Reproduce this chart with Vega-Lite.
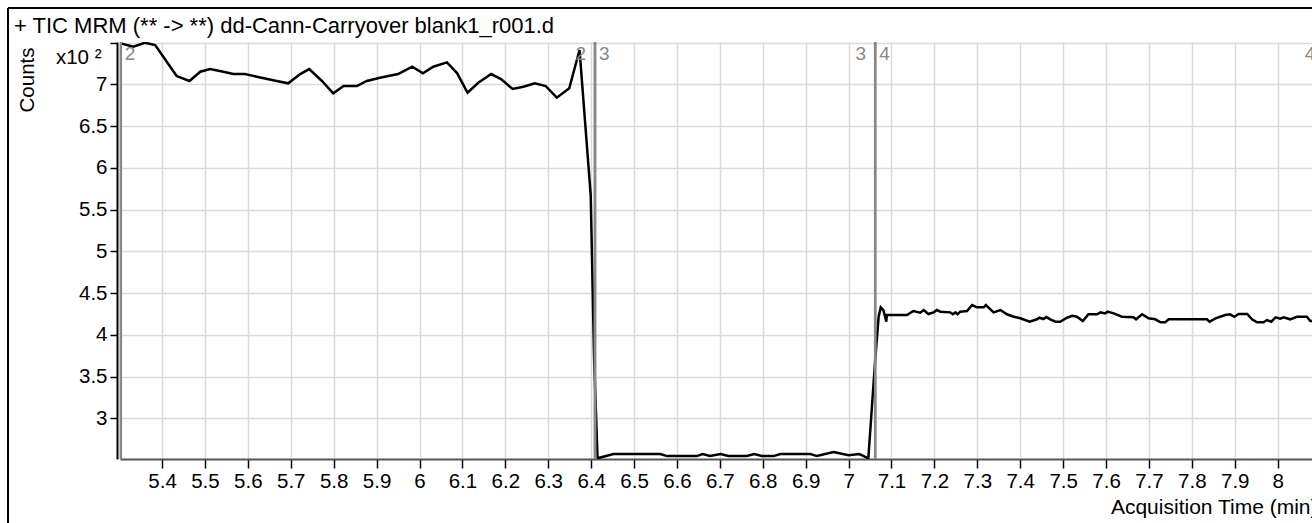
{
  "$schema": "https://vega.github.io/schema/vega-lite/v6.json",
  "width": 1192,
  "height": 417,
  "autosize": {"type": "none"},
  "padding": {"left": 120, "top": 42, "right": 0, "bottom": 64},
  "background": "white",
  "config": {
    "view": {"stroke": null},
    "font": "Liberation Sans",
    "axis": {
      "labelFont": "Liberation Sans",
      "titleFont": "Liberation Sans",
      "labelColor": "#000000",
      "titleColor": "#000000",
      "titleFontWeight": "normal"
    }
  },
  "title": {
    "text": "+ TIC MRM (** -> **) dd-Cann-Carryover blank1_r001.d",
    "anchor": "start",
    "frame": "group",
    "orient": "top",
    "baseline": "alphabetic",
    "dx": -106,
    "offset": -48,
    "font": "Liberation Sans",
    "fontSize": 22,
    "fontWeight": "normal",
    "color": "#000000"
  },
  "datasets": {
    "tic": [
      {"time_min": 5.304, "counts_x100": 7.491},
      {"time_min": 5.333, "counts_x100": 7.450},
      {"time_min": 5.360, "counts_x100": 7.498},
      {"time_min": 5.384, "counts_x100": 7.471},
      {"time_min": 5.411, "counts_x100": 7.271},
      {"time_min": 5.434, "counts_x100": 7.099},
      {"time_min": 5.464, "counts_x100": 7.040},
      {"time_min": 5.489, "counts_x100": 7.151},
      {"time_min": 5.512, "counts_x100": 7.183},
      {"time_min": 5.543, "counts_x100": 7.151},
      {"time_min": 5.566, "counts_x100": 7.123},
      {"time_min": 5.593, "counts_x100": 7.123},
      {"time_min": 5.621, "counts_x100": 7.091},
      {"time_min": 5.667, "counts_x100": 7.040},
      {"time_min": 5.694, "counts_x100": 7.012},
      {"time_min": 5.722, "counts_x100": 7.123},
      {"time_min": 5.743, "counts_x100": 7.183},
      {"time_min": 5.772, "counts_x100": 7.043},
      {"time_min": 5.799, "counts_x100": 6.892},
      {"time_min": 5.823, "counts_x100": 6.980},
      {"time_min": 5.854, "counts_x100": 6.980},
      {"time_min": 5.877, "counts_x100": 7.040},
      {"time_min": 5.908, "counts_x100": 7.079},
      {"time_min": 5.950, "counts_x100": 7.123},
      {"time_min": 5.983, "counts_x100": 7.211},
      {"time_min": 6.008, "counts_x100": 7.132},
      {"time_min": 6.032, "counts_x100": 7.211},
      {"time_min": 6.064, "counts_x100": 7.263},
      {"time_min": 6.088, "counts_x100": 7.132},
      {"time_min": 6.112, "counts_x100": 6.899},
      {"time_min": 6.137, "counts_x100": 7.019},
      {"time_min": 6.167, "counts_x100": 7.123},
      {"time_min": 6.190, "counts_x100": 7.063},
      {"time_min": 6.217, "counts_x100": 6.944},
      {"time_min": 6.242, "counts_x100": 6.971},
      {"time_min": 6.269, "counts_x100": 7.012},
      {"time_min": 6.294, "counts_x100": 6.980},
      {"time_min": 6.320, "counts_x100": 6.840},
      {"time_min": 6.349, "counts_x100": 6.952},
      {"time_min": 6.373, "counts_x100": 7.411},
      {"time_min": 6.399, "counts_x100": 5.674},
      {"time_min": 6.407, "counts_x100": 3.698},
      {"time_min": 6.415, "counts_x100": 2.521},
      {"time_min": 6.452, "counts_x100": 2.572},
      {"time_min": 6.561, "counts_x100": 2.572},
      {"time_min": 6.577, "counts_x100": 2.548},
      {"time_min": 6.646, "counts_x100": 2.548},
      {"time_min": 6.660, "counts_x100": 2.572},
      {"time_min": 6.677, "counts_x100": 2.548},
      {"time_min": 6.702, "counts_x100": 2.572},
      {"time_min": 6.720, "counts_x100": 2.548},
      {"time_min": 6.763, "counts_x100": 2.548},
      {"time_min": 6.780, "counts_x100": 2.572},
      {"time_min": 6.798, "counts_x100": 2.548},
      {"time_min": 6.825, "counts_x100": 2.548},
      {"time_min": 6.841, "counts_x100": 2.572},
      {"time_min": 6.911, "counts_x100": 2.572},
      {"time_min": 6.926, "counts_x100": 2.548},
      {"time_min": 6.965, "counts_x100": 2.596},
      {"time_min": 7.000, "counts_x100": 2.557},
      {"time_min": 7.025, "counts_x100": 2.572},
      {"time_min": 7.046, "counts_x100": 2.521},
      {"time_min": 7.062, "counts_x100": 3.698},
      {"time_min": 7.070, "counts_x100": 4.217},
      {"time_min": 7.075, "counts_x100": 4.329},
      {"time_min": 7.081, "counts_x100": 4.297},
      {"time_min": 7.088, "counts_x100": 4.157},
      {"time_min": 7.089, "counts_x100": 4.237},
      {"time_min": 7.136, "counts_x100": 4.237},
      {"time_min": 7.151, "counts_x100": 4.285},
      {"time_min": 7.167, "counts_x100": 4.265},
      {"time_min": 7.175, "counts_x100": 4.297},
      {"time_min": 7.186, "counts_x100": 4.249},
      {"time_min": 7.198, "counts_x100": 4.269},
      {"time_min": 7.206, "counts_x100": 4.297},
      {"time_min": 7.214, "counts_x100": 4.277},
      {"time_min": 7.237, "counts_x100": 4.269},
      {"time_min": 7.243, "counts_x100": 4.246},
      {"time_min": 7.249, "counts_x100": 4.269},
      {"time_min": 7.254, "counts_x100": 4.246},
      {"time_min": 7.260, "counts_x100": 4.277},
      {"time_min": 7.276, "counts_x100": 4.285},
      {"time_min": 7.288, "counts_x100": 4.357},
      {"time_min": 7.299, "counts_x100": 4.329},
      {"time_min": 7.315, "counts_x100": 4.329},
      {"time_min": 7.320, "counts_x100": 4.357},
      {"time_min": 7.338, "counts_x100": 4.269},
      {"time_min": 7.354, "counts_x100": 4.297},
      {"time_min": 7.369, "counts_x100": 4.246},
      {"time_min": 7.385, "counts_x100": 4.217},
      {"time_min": 7.400, "counts_x100": 4.198},
      {"time_min": 7.422, "counts_x100": 4.157},
      {"time_min": 7.439, "counts_x100": 4.186},
      {"time_min": 7.445, "counts_x100": 4.205},
      {"time_min": 7.454, "counts_x100": 4.189},
      {"time_min": 7.461, "counts_x100": 4.213},
      {"time_min": 7.470, "counts_x100": 4.186},
      {"time_min": 7.482, "counts_x100": 4.157},
      {"time_min": 7.493, "counts_x100": 4.157},
      {"time_min": 7.509, "counts_x100": 4.205},
      {"time_min": 7.521, "counts_x100": 4.229},
      {"time_min": 7.532, "counts_x100": 4.217},
      {"time_min": 7.546, "counts_x100": 4.165},
      {"time_min": 7.559, "counts_x100": 4.246},
      {"time_min": 7.579, "counts_x100": 4.246},
      {"time_min": 7.587, "counts_x100": 4.269},
      {"time_min": 7.598, "counts_x100": 4.257},
      {"time_min": 7.604, "counts_x100": 4.277},
      {"time_min": 7.610, "counts_x100": 4.269},
      {"time_min": 7.618, "counts_x100": 4.257},
      {"time_min": 7.637, "counts_x100": 4.217},
      {"time_min": 7.664, "counts_x100": 4.210},
      {"time_min": 7.670, "counts_x100": 4.186},
      {"time_min": 7.684, "counts_x100": 4.246},
      {"time_min": 7.699, "counts_x100": 4.198},
      {"time_min": 7.715, "counts_x100": 4.186},
      {"time_min": 7.727, "counts_x100": 4.150},
      {"time_min": 7.738, "counts_x100": 4.150},
      {"time_min": 7.746, "counts_x100": 4.186},
      {"time_min": 7.835, "counts_x100": 4.186},
      {"time_min": 7.841, "counts_x100": 4.157},
      {"time_min": 7.855, "counts_x100": 4.198},
      {"time_min": 7.878, "counts_x100": 4.237},
      {"time_min": 7.889, "counts_x100": 4.246},
      {"time_min": 7.899, "counts_x100": 4.217},
      {"time_min": 7.909, "counts_x100": 4.250},
      {"time_min": 7.929, "counts_x100": 4.250},
      {"time_min": 7.940, "counts_x100": 4.186},
      {"time_min": 7.952, "counts_x100": 4.150},
      {"time_min": 7.967, "counts_x100": 4.150},
      {"time_min": 7.975, "counts_x100": 4.177},
      {"time_min": 7.985, "counts_x100": 4.157},
      {"time_min": 7.995, "counts_x100": 4.210},
      {"time_min": 8.006, "counts_x100": 4.193},
      {"time_min": 8.014, "counts_x100": 4.210},
      {"time_min": 8.029, "counts_x100": 4.186},
      {"time_min": 8.045, "counts_x100": 4.217},
      {"time_min": 8.068, "counts_x100": 4.217},
      {"time_min": 8.076, "counts_x100": 4.165},
      {"time_min": 8.085, "counts_x100": 4.165}
    ],
    "segments": [
      {"segment": "2", "start": 5.304, "end": 6.409},
      {"segment": "3", "start": 6.409, "end": 7.062},
      {"segment": "4", "start": 7.062, "end": 8.109}
    ],
    "one": [{}]
  },
  "layer": [
    {
      "data": {"name": "tic"},
      "mark": {"type": "line", "color": "#000000", "strokeWidth": 2.5, "clip": true},
      "encoding": {
        "x": {
          "field": "time_min",
          "type": "quantitative",
          "scale": {"domain": [5.302, 8.08], "nice": false, "zero": false},
          "axis": {
            "title": "Acquisition Time (min)",
            "values": [5.4, 5.5, 5.6, 5.7, 5.8, 5.9, 6, 6.1, 6.2, 6.3, 6.4, 6.5, 6.6, 6.7, 6.8, 6.9, 7, 7.1, 7.2, 7.3, 7.4, 7.5, 7.6, 7.7, 7.8, 7.9, 8],
            "format": "~g",
            "labelFontSize": 20.5,
            "labelPadding": 3,
            "labelFlush": false,
            "labelOverlap": false,
            "tickSize": 9,
            "tickColor": "#000000",
            "tickWidth": 1.5,
            "domainColor": "#555555",
            "domainWidth": 2,
            "grid": true,
            "gridColor": "#dadada",
            "gridWidth": 1.5,
            "titleFontSize": 21,
            "titleAnchor": "end",
            "titleAlign": "right",
            "titleBaseline": "alphabetic",
            "titleX": 1197,
            "titleY": 54
          }
        },
        "y": {
          "field": "counts_x100",
          "type": "quantitative",
          "scale": {"domain": [2.513, 7.507], "nice": false, "zero": false},
          "axis": {
            "title": "Counts",
            "values": [3, 3.5, 4, 4.5, 5, 5.5, 6, 6.5, 7, 7.5],
            "format": "~g",
            "labelExpr": "datum.value == 7.5 ? 'x10 ²' : datum.label",
            "labelFontSize": 20.5,
            "labelPadding": {"condition": {"test": "datum.value == 7.5", "value": 9}, "value": 3},
            "labelOffset": {"condition": {"test": "datum.value == 7.5", "value": 15}, "value": 0},
            "labelOverlap": false,
            "labelFlush": false,
            "offset": 3,
            "tickSize": 7,
            "tickColor": "#000000",
            "tickWidth": 1.5,
            "domainColor": "#000000",
            "domainWidth": 2,
            "grid": true,
            "gridColor": "#dadada",
            "gridWidth": 1.5,
            "titleFontSize": 20.5,
            "titleAngle": 270,
            "titleAlign": "right",
            "titleBaseline": "alphabetic",
            "titleX": -84,
            "titleY": 5
          }
        }
      }
    },
    {
      "data": {"name": "segments"},
      "mark": {"type": "rule", "color": "#888888", "strokeWidth": 2.5},
      "encoding": {"x": {"field": "start", "type": "quantitative"}}
    },
    {
      "data": {"name": "segments"},
      "mark": {"type": "rule", "color": "#888888", "strokeWidth": 2.5},
      "encoding": {"x": {"field": "end", "type": "quantitative"}}
    },
    {
      "data": {"name": "segments"},
      "mark": {"type": "text", "align": "left", "baseline": "middle", "dx": 4, "fontSize": 19, "color": "#888888", "font": "Liberation Sans"},
      "encoding": {
        "x": {"field": "start", "type": "quantitative"},
        "y": {"datum": 7.36, "type": "quantitative"},
        "text": {"field": "segment"}
      }
    },
    {
      "data": {"name": "segments"},
      "mark": {"type": "text", "align": "right", "baseline": "middle", "dx": -9, "fontSize": 19, "color": "#888888", "font": "Liberation Sans"},
      "encoding": {
        "x": {"field": "end", "type": "quantitative"},
        "y": {"datum": 7.36, "type": "quantitative"},
        "text": {"field": "segment"}
      }
    },
    {
      "data": {"name": "one"},
      "mark": {"type": "rule", "color": "#000000", "strokeWidth": 2},
      "encoding": {
        "x": {"datum": 5.041, "type": "quantitative"},
        "y": {"datum": 7.914, "type": "quantitative"},
        "y2": {"datum": 1.5}
      }
    },
    {
      "data": {"name": "one"},
      "mark": {"type": "rule", "color": "#000000", "strokeWidth": 2},
      "encoding": {
        "y": {"datum": 7.914, "type": "quantitative"},
        "x": {"datum": 5.041, "type": "quantitative"},
        "x2": {"datum": 8.3}
      }
    }
  ]
}
